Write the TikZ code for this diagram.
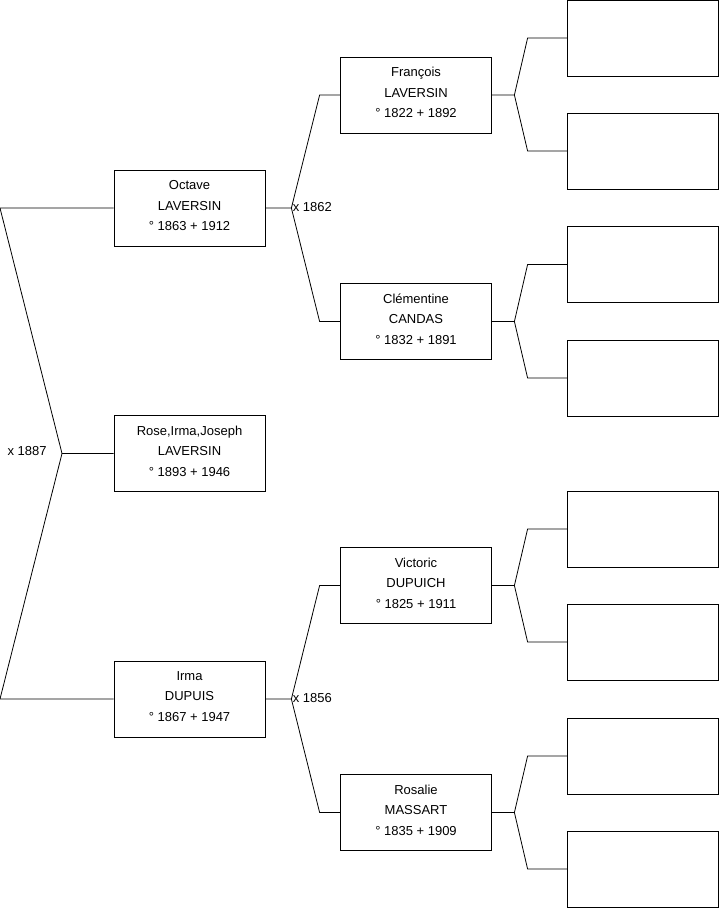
\documentclass[tikz,border=0pt]{standalone}
\usepackage{fontspec}
\setmainfont{Liberation Sans}
\usetikzlibrary{calc}

\tikzset{
  person/.style={draw, minimum width=151pt, minimum height=76pt, inner sep=0pt,
    align=center, text depth=5pt, font=\fontsize{13}{20.5}\selectfont},
  wedding/.style={font=\fontsize{13}{14}\selectfont, inner sep=1pt}
}

\begin{document}
\begin{tikzpicture}[x=1pt, y=-1pt, line width=0.8pt]
\useasboundingbox (0,0) rectangle (719,908);
% child
\node[person] (rose) at (189.5,453.5) {Rose,Irma,Joseph\\LAVERSIN\\° 1893 + 1946};
% parents
\node[person] (octave) at (189.5,208) {Octave\\LAVERSIN\\° 1863 + 1912};
\node[person] (irma) at (189.5,699) {Irma\\DUPUIS\\° 1867 + 1947};
% grand parents
\node[person] (francois) at (416,95) {François\\LAVERSIN\\° 1822 + 1892};
\node[person] (clementine) at (416,321.5) {Clémentine\\CANDAS\\° 1832 + 1891};
\node[person] (victoric) at (416,585.5) {Victoric\\DUPUICH\\° 1825 + 1911};
\node[person] (rosalie) at (416,812.5) {Rosalie\\MASSART\\° 1835 + 1909};
% unknown ancestors
\foreach \y [count=\i] in {38,151,264.5,378,529,642,756,869}
  \node[person] (anc\i) at (643,\y) {};

% child to parents
\coordinate (rosefork) at (62,453.5);
\coordinate (dadend) at (0,208);
\coordinate (mumend) at (0,699);
\draw (rose.west) -- (rosefork) -- (dadend) -- (octave.west);
\draw (rosefork) -- (mumend) -- (irma.west);
\node[wedding, anchor=east] (w1887) at ($(rosefork)+(-14,-2)$) {x 1887};

% parents to grand parents
\coordinate (octavefork) at ($(octave.east)+(26,0)$);
\coordinate (irmafork) at ($(irma.east)+(26,0)$);
\foreach \p/\a/\b in {octave/francois/clementine, irma/victoric/rosalie} {
  \draw (\p.east) -- (\p fork) -- ($(\a.west)+(-20.5,0)$) -- (\a.west);
  \draw (\p fork) -- ($(\b.west)+(-20.5,0)$) -- (\b.west);
}
\node[wedding, anchor=west] (w1862) at ($(octavefork)+(0,-1)$) {x 1862};
\node[wedding, anchor=west] (w1856) at ($(irmafork)+(0,-1)$) {x 1856};

% grand parents to unknown ancestors
\foreach \p/\a/\b in {francois/anc1/anc2, clementine/anc3/anc4, victoric/anc5/anc6, rosalie/anc7/anc8} {
  \coordinate (\p fork) at ($(\p.east)+(22.5,0)$);
  \draw (\p.east) -- (\p fork) -- ($(\a.west)+(-39.5,0)$) -- (\a.west);
  \draw (\p fork) -- ($(\b.west)+(-39.5,0)$) -- (\b.west);
}
\end{tikzpicture}
\end{document}
